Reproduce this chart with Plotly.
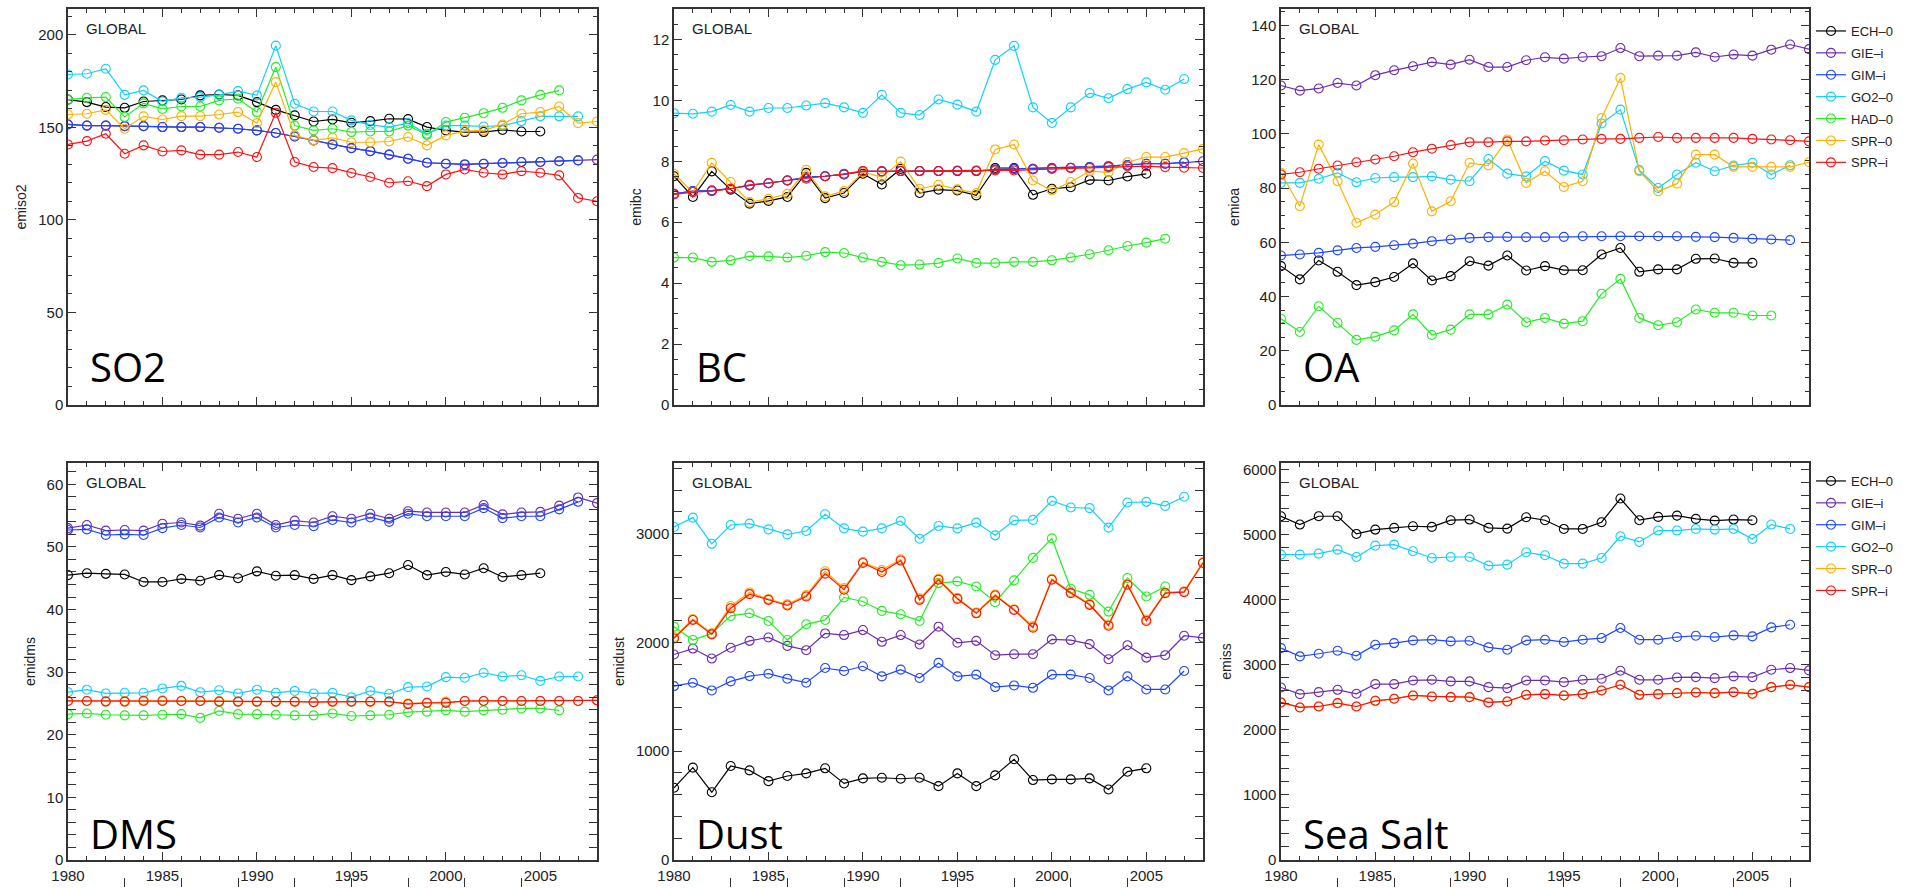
import plotly.graph_objects as go

YEARS = list(range(1980, 2009))
NAMES = ["ECH–0", "GIE–i", "GIM–i", "GO2–0", "HAD–0", "SPR–0", "SPR–i"]
COLORS = ["#000000", "#6a2cb0", "#1e46ff", "#10d0ff", "#22ee22", "#ffb000", "#ff1010"]
Y_MAJOR_TICKS = {"SO2": [0, 50, 100, 150, 200], "BC": [0, 2, 4, 6, 8, 10, 12],
                 "OA": [0, 20, 40, 60, 80, 100, 120, 140], "DMS": [0, 10, 20, 30, 40, 50, 60],
                 "Dust": [0, 1000, 2000, 3000], "Sea Salt": [0, 1000, 2000, 3000, 4000, 5000, 6000]}
X_TICKS = [1980, 1985, 1990, 1995, 2000, 2005]

# ---------------- SO2 ----------------
SO2_ECH0 = [165, 163.7, 161, 160.6, 164, 164.6, 165.1, 167.3, 167.8, 167.3, 163.7, 159.5, 156.5, 153.2, 154.3,
            152.5, 153.4, 154.7, 154.5, 150.2, 148.4, 147.5, 147.5, 148.7, 147.8, 147.8]
SO2_GIEi = [151.6, 151, 151, 150.7, 150.7, 150.2, 150.2, 150.2, 149.8, 149.3, 148.4, 147, 145.1, 143, 140.8,
            138.8, 137.2, 135.3, 133.1, 130.9, 130.4, 130, 130.4, 130.8, 131.3, 131.3, 131.7, 132.2, 132.6]
SO2_GIMi = [151.6, 151, 151, 150.7, 150.7, 150.2, 150.2, 150.2, 149.8, 149.3, 148.4, 147, 145.1, 143, 140.8,
            138.8, 137.2, 135.3, 133.1, 130.9, 130.4, 130, 130.4, 130.8, 131.3, 131.3, 131.7, 132.2]
SO2_GO20 = [178.6, 179, 181.7, 167.6, 170, 164, 166, 166.4, 167.6, 169.6, 167.3, 194.2, 162.8, 158.6, 158.6,
            153.8, 151.4, 150.2, 152.3, 146.6, 151, 151, 150.5, 151, 153.4, 156, 156, 156]
SO2_HAD0 = [165, 166, 166.4, 155.6, 163, 160, 161.3, 161.3, 164.6, 165.5, 158.3, 182.6, 151, 148.4, 149.3,
            147.5, 147.8, 147.8, 151, 146, 152.9, 155.2, 157.7, 160.6, 164.6, 167.6, 170]
SO2_SPR0 = [157, 157.4, 159.5, 149.3, 156, 154.3, 156.1, 156.1, 157, 158.3, 152.3, 174.5, 145.7, 143, 144.4,
            142, 142, 142.4, 144.8, 140.3, 145.7, 148, 148.4, 151.6, 157.4, 158.3, 161.3, 152.3, 153.2]
SO2_SPRi = [140.8, 142.6, 146.6, 135.8, 140.3, 137, 137.6, 135.3, 135.3, 136.7, 134, 157.9, 131.3, 128.6, 128,
            125.4, 123.2, 120.1, 120.9, 118.3, 124.6, 127.3, 125.5, 124.6, 126.4, 125.5, 124.1, 111.9, 110.1]

# ---------------- BC ----------------
BC_ECH0 = [7.51, 6.83, 7.67, 7.07, 6.61, 6.7, 6.83, 7.62, 6.79, 6.96, 7.59, 7.24, 7.75, 6.96, 7.07, 7.04, 6.88,
           7.78, 7.78, 6.9, 7.1, 7.15, 7.39, 7.37, 7.5, 7.59]
BC_GIEi = [6.93, 7.02, 7.04, 7.1, 7.21, 7.28, 7.37, 7.48, 7.51, 7.57, 7.67, 7.67, 7.68, 7.68, 7.68, 7.68, 7.68,
           7.73, 7.75, 7.75, 7.78, 7.79, 7.81, 7.84, 7.88, 7.92, 7.92, 7.97, 8.0]
BC_GIMi = [6.93, 7.02, 7.04, 7.1, 7.21, 7.28, 7.37, 7.48, 7.51, 7.57, 7.67, 7.67, 7.68, 7.68, 7.68, 7.68, 7.68,
           7.73, 7.75, 7.75, 7.78, 7.79, 7.81, 7.84, 7.88, 7.92, 7.92, 7.97]
BC_GO20 = [9.58, 9.56, 9.63, 9.85, 9.63, 9.75, 9.75, 9.83, 9.91, 9.77, 9.59, 10.18, 9.59, 9.52, 10.03, 9.86, 9.63,
           11.33, 11.79, 9.77, 9.26, 9.77, 10.24, 10.07, 10.37, 10.59, 10.35, 10.7]
BC_HAD0 = [4.84, 4.84, 4.70, 4.75, 4.89, 4.88, 4.84, 4.9, 5.02, 4.99, 4.84, 4.7, 4.59, 4.61, 4.66, 4.81, 4.66,
           4.66, 4.7, 4.7, 4.75, 4.84, 4.95, 5.08, 5.22, 5.33, 5.46]
BC_SPR0 = [7.59, 6.99, 7.95, 7.32, 6.66, 6.77, 6.93, 7.72, 6.85, 7.02, 7.64, 7.48, 7.99, 7.1, 7.23, 7.08, 6.96,
           8.39, 8.55, 7.37, 7.04, 7.32, 7.68, 7.64, 7.97, 8.14, 8.14, 8.27, 8.41]
BC_SPRi = [6.91, 6.99, 7.02, 7.1, 7.23, 7.28, 7.37, 7.43, 7.51, 7.59, 7.68, 7.67, 7.68, 7.68, 7.68, 7.7, 7.7,
           7.7, 7.7, 7.73, 7.75, 7.78, 7.78, 7.81, 7.84, 7.84, 7.81, 7.79, 7.78]

# ---------------- OA ----------------
OA_ECH0 = [51.2, 46.3, 53.3, 49.1, 44.2, 45.3, 47.2, 52.2, 45.9, 47.5, 53, 51.4, 55.1, 49.6, 51.2, 49.7, 49.7,
           55.5, 57.9, 49.1, 50, 50, 53.9, 54, 52.4, 52.4]
OA_GIEi = [117.8, 115.9, 116.7, 118.7, 117.8, 121.6, 123.4, 124.9, 126.4, 125.5, 127.3, 124.6, 124.6, 127.1,
           128.2, 127.7, 128.3, 128.6, 131.6, 128.6, 128.8, 128.8, 130, 128.3, 129.2, 128.8, 131, 132.9, 131.2]
OA_GIMi = [55.1, 55.5, 56.1, 57, 57.9, 58.3, 58.9, 59.5, 60.4, 61, 61.6, 61.9, 62, 61.9, 61.9, 62, 62.2, 62.2,
           62.2, 62.2, 62.2, 62.2, 62, 61.9, 61.6, 61.3, 61, 60.8]
OA_GO20 = [81.9, 81.9, 83.4, 85.6, 82.1, 83.7, 84, 84, 84.3, 83.1, 82.5, 90.7, 85.3, 84.3, 89.9, 86.4, 85, 103.8,
           108.9, 86.6, 80, 85, 89.3, 86.2, 88.3, 89.3, 85, 88.4]
OA_HAD0 = [31.8, 26.9, 36.4, 30.3, 24, 25.2, 27.5, 33.4, 25.8, 27.8, 33.4, 33.4, 37, 30.5, 32.1, 30, 30.9, 41,
           46.5, 32.1, 29.4, 30.5, 35.2, 34, 34, 33, 33]
OA_SPR0 = [85.6, 73.3, 96, 82.5, 67.2, 70.2, 74.8, 89, 71.4, 75.1, 89.3, 88.3, 97.9, 81.9, 86.2, 80.4, 82.5,
           105.8, 120.6, 86.2, 78.8, 81.6, 92.3, 92.3, 87.8, 87.8, 87.8, 87.8, 89.5]
OA_SPRi = [85, 85.8, 87.1, 88.3, 89.5, 90.5, 91.7, 93.2, 94.5, 95.8, 96.9, 96.9, 97.2, 97.2, 97.5, 97.6, 97.9,
           98.1, 98.1, 98.5, 98.8, 98.5, 98.5, 98.5, 98.5, 98.1, 97.9, 97.6, 97.2]

# ---------------- DMS ----------------
DMS_ECH0 = [45.5, 45.8, 45.7, 45.6, 44.4, 44.4, 44.9, 44.6, 45.5, 45, 46.1, 45.4, 45.5, 44.9, 45.5, 44.7, 45.3,
            45.8, 47.1, 45.5, 46, 45.6, 46.6, 45.2, 45.5, 45.8]
DMS_GIEi = [53, 53.5, 52.6, 52.7, 52.6, 53.7, 53.9, 53.4, 55.3, 54.5, 55.3, 53.5, 54.2, 53.9, 54.9, 54.5, 55.3,
            54.5, 55.7, 55.5, 55.5, 55.5, 56.7, 55.2, 55.5, 55.6, 56.6, 57.9, 57]
DMS_GIMi = [52.7, 52.8, 51.9, 52, 51.9, 53, 53.5, 53.1, 54.7, 53.9, 54.7, 53.1, 53.5, 53.3, 54.3, 53.9, 54.7,
            54, 55.3, 54.9, 54.9, 54.9, 56.2, 54.6, 54.9, 54.9, 56, 57.2]
DMS_GO20 = [26.8, 27.2, 26.6, 26.7, 26.7, 27.4, 27.8, 26.8, 27.1, 26.6, 27.2, 26.7, 27, 26.6, 26.7, 26, 27, 26.5,
            27.6, 27.7, 29.2, 29.1, 29.9, 29.3, 29.5, 28.6, 29.3, 29.3]
DMS_HAD0 = [23.3, 23.4, 23.2, 23.1, 23.1, 23.2, 23.3, 22.7, 23.8, 23.3, 23.3, 23.2, 23.1, 23.1, 23.4, 23, 23.1,
            23.2, 23.6, 23.7, 23.9, 23.7, 23.9, 24, 24.2, 24.2, 23.9]
DMS_SPR0 = [25.4, 25.4, 25.4, 25.4, 25.5, 25.5, 25.4, 25.4, 25.4, 25.3, 25.3, 25.3, 25.3, 25.2, 25.3, 25.3, 25.3,
            25.3, 25.0, 25.1, 25.3, 25.4, 25.4, 25.4, 25.4, 25.4, 25.4, 25.4, 25.5]
DMS_SPRi = [25.4, 25.4, 25.3, 25.3, 25.4, 25.4, 25.4, 25.4, 25.3, 25.3, 25.3, 25.3, 25.3, 25.2, 25.3, 25.3, 25.3,
            25.3, 24.9, 25.1, 25.1, 25.4, 25.4, 25.4, 25.4, 25.4, 25.4, 25.4, 25.5]

# ---------------- Dust ----------------
DUST_ECH0 = [664, 849, 623, 864, 824, 725, 772, 796, 843, 704, 750, 756, 747, 756, 679, 796, 679, 778, 926, 735,
             741, 741, 750, 648, 812, 843]
DUST_GIEi = [1889, 1944, 1852, 1951, 2015, 2046, 1969, 1929, 2083, 2068, 2114, 2006, 2068, 1981, 2145, 1997, 2015,
             1883, 1892, 1892, 2028, 2022, 1985, 1846, 1975, 1861, 1883, 2062, 2043]
DUST_GIMi = [1599, 1630, 1559, 1642, 1691, 1713, 1667, 1630, 1765, 1738, 1781, 1688, 1750, 1673, 1812, 1688, 1704,
             1590, 1605, 1583, 1704, 1704, 1673, 1559, 1688, 1568, 1568, 1738]
DUST_GO20 = [3062, 3148, 2907, 3080, 3093, 3040, 2994, 3025, 3179, 3049, 3019, 3049, 3117, 2954, 3071, 3049, 3102,
             2985, 3123, 3127, 3302, 3241, 3235, 3056, 3287, 3293, 3256, 3340]
DUST_HAD0 = [2145, 2022, 2083, 2244, 2269, 2198, 2022, 2167, 2207, 2414, 2377, 2290, 2259, 2198, 2546, 2562, 2515,
             2370, 2571, 2778, 2957, 2494, 2438, 2284, 2593, 2423, 2515]
DUST_SPR0 = [2050, 2215, 2085, 2335, 2460, 2400, 2350, 2435, 2655, 2500, 2740, 2665, 2765, 2405, 2585, 2410, 2275,
             2440, 2305, 2150, 2585, 2465, 2355, 2165, 2540, 2210, 2460, 2470, 2740]
DUST_SPRi = [2037, 2207, 2074, 2315, 2444, 2392, 2340, 2423, 2633, 2485, 2731, 2648, 2753, 2392, 2577, 2401, 2268,
             2432, 2299, 2136, 2577, 2454, 2346, 2154, 2531, 2198, 2454, 2463, 2731]

# ---------------- Sea Salt ----------------
SS_ECH0 = [5282, 5154, 5282, 5282, 5010, 5077, 5103, 5128, 5118, 5221, 5231, 5103, 5092, 5267, 5221, 5087, 5087,
           5190, 5554, 5221, 5272, 5292, 5241, 5215, 5231, 5221]
SS_GIEi = [2651, 2549, 2579, 2615, 2554, 2703, 2703, 2759, 2769, 2744, 2744, 2656, 2641, 2759, 2759, 2733, 2769,
           2785, 2908, 2769, 2769, 2805, 2810, 2795, 2821, 2810, 2923, 2949, 2913]
SS_GIMi = [3256, 3128, 3169, 3215, 3138, 3308, 3333, 3374, 3385, 3359, 3369, 3267, 3231, 3374, 3385, 3349, 3385,
           3410, 3564, 3385, 3385, 3426, 3446, 3426, 3451, 3436, 3574, 3615]
SS_GO20 = [4692, 4692, 4708, 4769, 4656, 4831, 4846, 4744, 4641, 4656, 4656, 4523, 4538, 4728, 4682, 4554, 4554,
           4641, 4974, 4887, 5062, 5062, 5087, 5077, 5087, 4933, 5154, 5087]
SS_SPR0 = [2421, 2344, 2359, 2410, 2359, 2446, 2477, 2528, 2513, 2503, 2503, 2421, 2436, 2538, 2549, 2528, 2549,
           2605, 2692, 2538, 2549, 2564, 2574, 2564, 2579, 2554, 2656, 2692, 2656]
SS_SPRi = [2421, 2344, 2359, 2410, 2359, 2446, 2477, 2528, 2513, 2503, 2503, 2421, 2436, 2538, 2549, 2528, 2549,
           2605, 2692, 2538, 2549, 2564, 2574, 2564, 2579, 2554, 2656, 2692, 2656]

PANELS = [
    dict(label="SO2", ytitle="emiso2", ymax=214, minor=10,
         series=[SO2_ECH0, SO2_GIEi, SO2_GIMi, SO2_GO20, SO2_HAD0, SO2_SPR0, SO2_SPRi]),
    dict(label="BC", ytitle="emibc", ymax=13, minor=0.5,
         series=[BC_ECH0, BC_GIEi, BC_GIMi, BC_GO20, BC_HAD0, BC_SPR0, BC_SPRi]),
    dict(label="OA", ytitle="emioa", ymax=146, minor=5,
         series=[OA_ECH0, OA_GIEi, OA_GIMi, OA_GO20, OA_HAD0, OA_SPR0, OA_SPRi]),
    dict(label="DMS", ytitle="emidms", ymax=63.4, minor=2,
         series=[DMS_ECH0, DMS_GIEi, DMS_GIMi, DMS_GO20, DMS_HAD0, DMS_SPR0, DMS_SPRi]),
    dict(label="Dust", ytitle="emidust", ymax=3650, minor=200,
         series=[DUST_ECH0, DUST_GIEi, DUST_GIMi, DUST_GO20, DUST_HAD0, DUST_SPR0, DUST_SPRi]),
    dict(label="Sea Salt", ytitle="emiss", ymax=6100, minor=200,
         series=[SS_ECH0, SS_GIEi, SS_GIMi, SS_GO20, None, SS_SPR0, SS_SPRi]),
]

# stray tick marks below the bottom-row year labels (px offsets from each panel's left edge)
STRAY_MARKS = [[60, 120, 180, 240, 300, 360, 420, 480],
               [60, 120, 180, 240, 300, 360, 420, 480],
               [60, 120, 180, 240, 300, 360, 420, 480, 540]]

W, H = 1921, 888
COL_PX = [(68, 597), (674, 1203), (1281, 1809)]
ROW_PX = [(9, 405), (463, 860)]
LABEL_LIFT = [39, 27]
AXCOL = "#333333"
FONT = "Liberation Sans"
TXT = "#222222"

fig = go.Figure()
layout = dict(width=W, height=H, margin=dict(l=0, r=0, t=0, b=0, autoexpand=False),
              paper_bgcolor="white", plot_bgcolor="white", annotations=[],
              font=dict(family=FONT, size=13, color=TXT))

for i, p in enumerate(PANELS):
    k = i + 1
    row, col = divmod(i, 3)
    xs = "" if k == 1 else str(k)
    c0, c1 = COL_PX[col]
    r0, r1 = ROW_PX[row]
    xdom = [c0 / W, c1 / W]
    ydom = [1 - r1 / H, 1 - r0 / H]
    for j, vals in enumerate(p["series"]):
        if vals is None:
            continue
        show = k in (3, 6)
        tr = go.Scatter(
            x=YEARS[:len(vals)], y=vals, mode="lines+markers", name=NAMES[j],
            line=dict(color=COLORS[j], width=1.2),
            marker=dict(symbol="circle-open", size=9, color=COLORS[j], line=dict(width=1.1)),
            xaxis="x" + xs, yaxis="y" + xs, showlegend=show, legendgroup=f"g{k}_{j}",
        )
        if k == 6:
            tr.legend = "legend2"
        fig.add_trace(tr)

    layout["xaxis" + xs] = dict(
        domain=xdom, anchor="y" + xs, range=[1980, 2008], tickvals=X_TICKS, automargin=False,
        showticklabels=(row == 1), ticks="inside", ticklen=8, tickwidth=1, tickcolor=AXCOL,
        showline=True, linecolor=AXCOL, linewidth=1.5, mirror="allticks", showgrid=False, zeroline=False,
        minor=dict(dtick=1, tick0=1980, ticks="inside", ticklen=4, tickwidth=1, tickcolor=AXCOL, showgrid=False),
        tickfont=dict(family=FONT, size=15, color=TXT), ticklabelstandoff=1,
    )
    layout["yaxis" + xs] = dict(
        domain=ydom, anchor="x" + xs, range=[0, p["ymax"]], tickvals=Y_MAJOR_TICKS[p["label"]], automargin=False,
        ticks="inside", ticklen=8, tickwidth=1, tickcolor=AXCOL,
        showline=True, linecolor=AXCOL, linewidth=1.5, mirror="allticks", showgrid=False, zeroline=False,
        minor=dict(dtick=p["minor"], tick0=0, ticks="inside", ticklen=4, tickwidth=1, tickcolor=AXCOL, showgrid=False),
        tickfont=dict(family=FONT, size=15, color=TXT),
        title=dict(text=p["ytitle"], font=dict(family=FONT, size=14, color=TXT), standoff=8),
    )
    layout["annotations"].append(dict(
        text="GLOBAL", xref=f"x{xs} domain", yref=f"y{xs} domain", x=16 / 529, y=1 - 20 / 397,
        xanchor="left", yanchor="middle", showarrow=False, font=dict(family=FONT, size=15, color=TXT)))
    layout["annotations"].append(dict(
        text=p["label"], xref=f"x{xs} domain", yref=f"y{xs} domain", x=20 / 529, y=LABEL_LIFT[row] / 397,
        xanchor="left", yanchor="middle", showarrow=False, font=dict(family="Open Sans", size=40, color="#000")))

    if row == 1:
        ax_id = k + 6
        marks = STRAY_MARKS[col]
        layout[f"xaxis{ax_id}"] = dict(
            domain=[c0 / W, (c0 + 560) / W], range=[0, 560], overlaying="x" + xs, anchor="free",
            position=1 - 877 / H, side="bottom", tickvals=marks, ticks="outside", ticklen=9, tickwidth=1,
            tickcolor=AXCOL, showticklabels=False, showline=False, showgrid=False, zeroline=False,
            automargin=False, fixedrange=True,
        )
        # empty trace so the overlay axis gets drawn
        fig.add_trace(go.Scatter(x=[], y=[], xaxis=f"x{ax_id}", yaxis="y" + xs, showlegend=False,
                                 hoverinfo="skip", mode="lines"))

layout["legend"] = dict(x=1811 / W, y=1 - 16 / H, xanchor="left", yanchor="top", tracegroupgap=2,
                        font=dict(family=FONT, size=13, color=TXT), bgcolor="rgba(0,0,0,0)")
layout["legend2"] = dict(x=1811 / W, y=1 - 466 / H, xanchor="left", yanchor="top", tracegroupgap=2,
                         font=dict(family=FONT, size=13, color=TXT), bgcolor="rgba(0,0,0,0)")
fig.update_layout(**layout)
fig.write_html("out.html")
